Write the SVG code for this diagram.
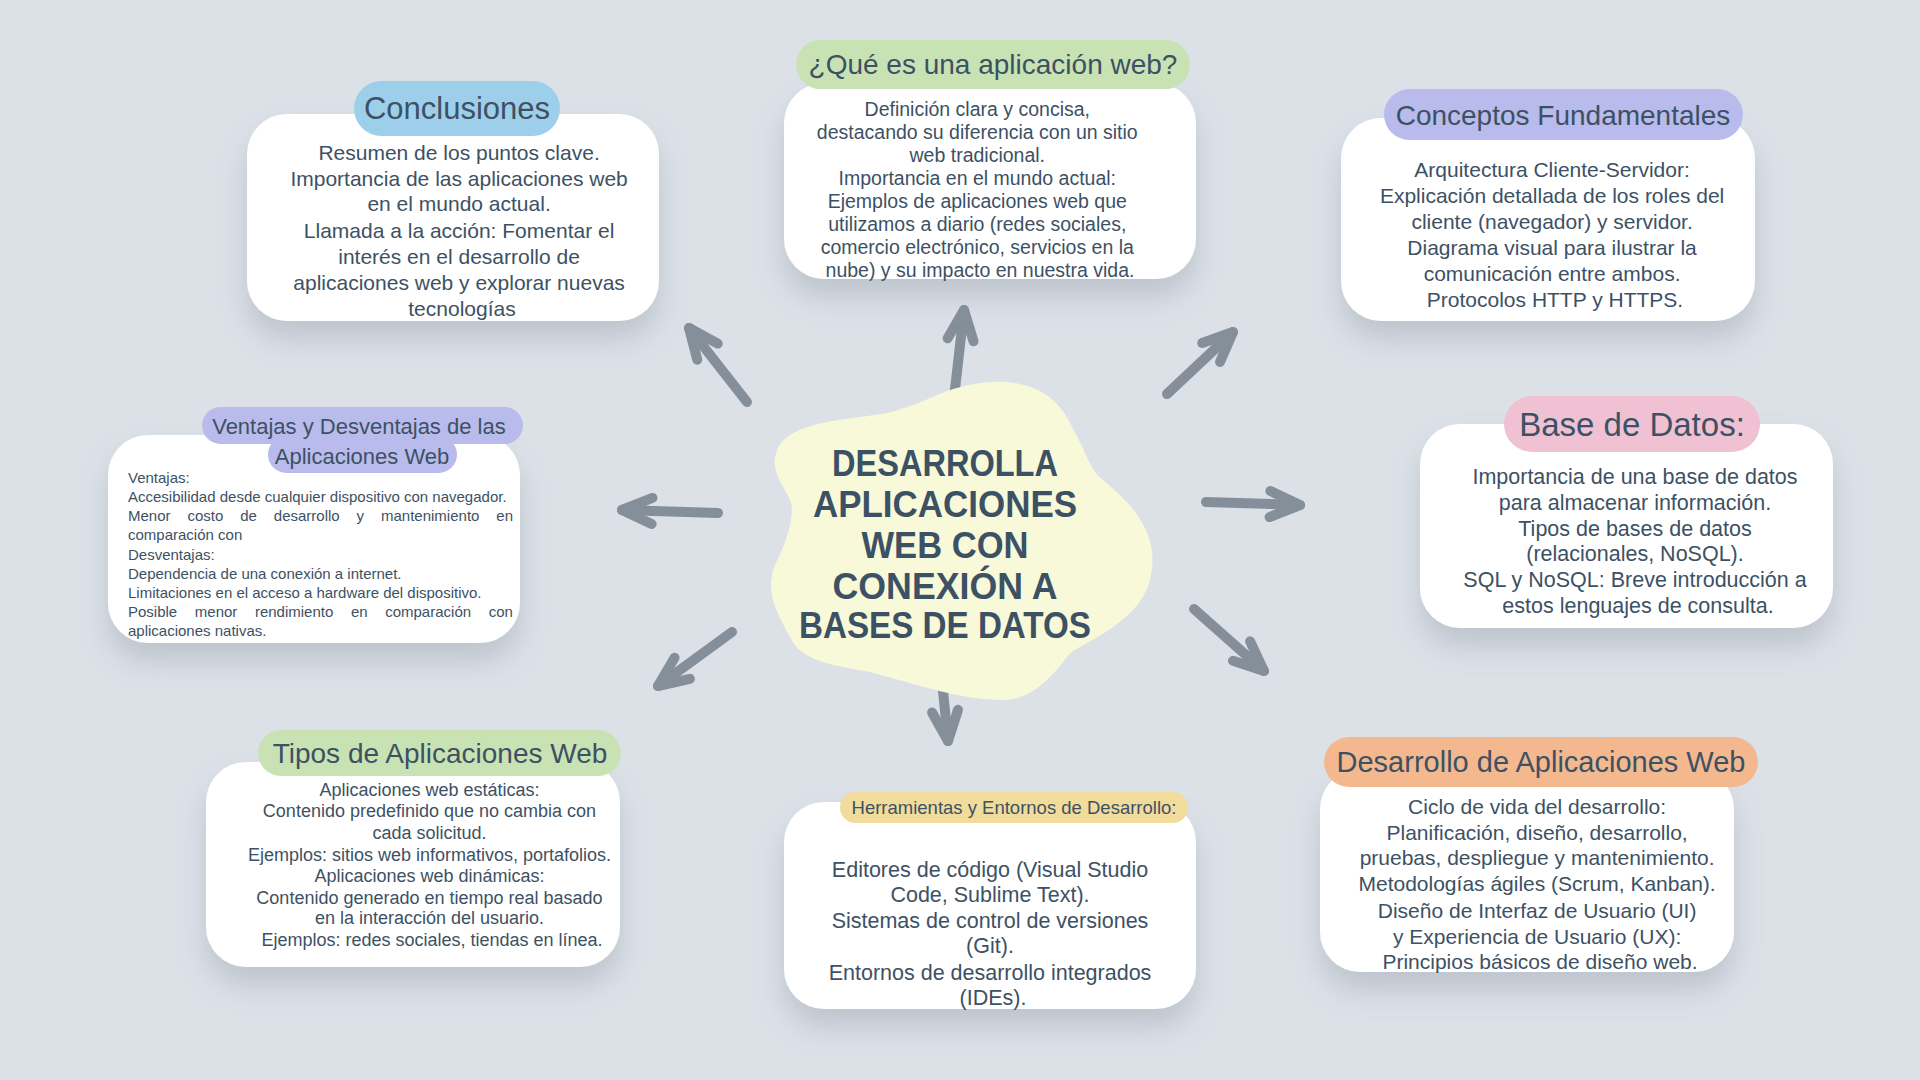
<svg xmlns="http://www.w3.org/2000/svg" width="1920" height="1080" viewBox="0 0 1920 1080">
<defs>
<filter id="sh" x="-20%" y="-20%" width="140%" height="160%">
<feDropShadow dx="0" dy="18" stdDeviation="14" flood-color="#7d8894" flood-opacity="0.32"/>
</filter>
<marker id="ah" markerUnits="userSpaceOnUse" markerWidth="80" markerHeight="80" refX="0" refY="0" orient="auto" overflow="visible">
<path d="M-30,-13 L0,0 L-30,13" fill="none" stroke="#848f99" stroke-width="10" stroke-linecap="round" stroke-linejoin="round"/>
</marker>
</defs>
<style>
.box{fill:#ffffff;filter:url(#sh)}
.t{font-family:"Liberation Sans",Arial,sans-serif;fill:#3d5164;text-anchor:middle}
.h{font-family:"Liberation Sans",Arial,sans-serif;fill:#3d5164;text-anchor:middle}
.l{font-family:"Liberation Sans",Arial,sans-serif;fill:#3d5164;font-size:15px}
.title{font-family:"Liberation Sans",Arial,sans-serif;font-weight:bold;font-size:36px;fill:#3d5164;text-anchor:middle}
.arr{fill:none;stroke:#848f99;stroke-width:10;stroke-linecap:round;marker-end:url(#ah)}
</style>
<rect width="1920" height="1080" fill="#dce1e8"/>

<g id="connectors">
<line class="arr" x1="747" y1="402" x2="689" y2="328"/>
<line class="arr" x1="954" y1="398" x2="964" y2="310"/>
<line class="arr" x1="1167" y1="394" x2="1233" y2="332"/>
<line class="arr" x1="1206" y1="502" x2="1300" y2="505"/>
<line class="arr" x1="1194" y1="609" x2="1264" y2="671"/>
<line class="arr" x1="939" y1="651" x2="948" y2="741"/>
<line class="arr" x1="732" y1="632" x2="658" y2="686"/>
<line class="arr" x1="718" y1="513" x2="622" y2="510"/>
</g>

<g id="center">
<path d="M777,450 C790,420 850,420 887,413 C920,405 940,392 957,388 C1000,375 1050,380 1070,423 C1090,460 1090,470 1103,480 C1140,510 1160,540 1150,580 C1140,620 1090,640 1070,653 C1050,680 1030,700 1003,700 C960,700 920,685 870,672 C830,665 800,660 790,637 C775,610 765,590 775,565 C790,535 795,510 790,500 C780,480 770,470 777,450 Z" fill="#f8f9d9"/>
<text class="title" x="945" y="476" textLength="226" lengthAdjust="spacingAndGlyphs">DESARROLLA</text>
<text class="title" x="945" y="517" textLength="264" lengthAdjust="spacingAndGlyphs">APLICACIONES</text>
<text class="title" x="945" y="558" textLength="167" lengthAdjust="spacingAndGlyphs">WEB CON</text>
<text class="title" x="945" y="599" textLength="225" lengthAdjust="spacingAndGlyphs">CONEXIÓN A</text>
<text class="title" x="945" y="638" textLength="292" lengthAdjust="spacingAndGlyphs">BASES DE DATOS</text>
</g>

<g id="conclusiones">
<rect class="box" x="247" y="114" width="412" height="207" rx="40"/>
<rect x="354" y="81" width="206" height="55" rx="27.5" fill="#9dcfea"/>
<text class="h" x="457" y="119" font-size="31">Conclusiones</text>
<text class="t" font-size="21">
<tspan x="462" y="160">Resumen de los puntos clave.</tspan>
<tspan x="462" y="186">Importancia de las aplicaciones web</tspan>
<tspan x="462" y="211">en el mundo actual.</tspan>
<tspan x="462" y="238">Llamada a la acción: Fomentar el</tspan>
<tspan x="462" y="264">interés en el desarrollo de</tspan>
<tspan x="462" y="290">aplicaciones web y explorar nuevas</tspan>
<tspan x="462" y="316">tecnologías</tspan>
</text>
</g>

<g id="que-es">
<rect class="box" x="784" y="83" width="412" height="196" rx="40"/>
<rect x="796" y="40" width="394" height="49" rx="24.5" fill="#c9e2b3"/>
<text class="h" x="993" y="74" font-size="28">¿Qué es una aplicación web?</text>
<text class="t" font-size="19.5">
<tspan x="980" y="116">Definición clara y concisa,</tspan>
<tspan x="980" y="139">destacando su diferencia con un sitio</tspan>
<tspan x="980" y="162">web tradicional.</tspan>
<tspan x="980" y="185">Importancia en el mundo actual:</tspan>
<tspan x="980" y="208">Ejemplos de aplicaciones web que</tspan>
<tspan x="980" y="231">utilizamos a diario (redes sociales,</tspan>
<tspan x="980" y="254">comercio electrónico, servicios en la</tspan>
<tspan x="980" y="277">nube) y su impacto en nuestra vida.</tspan>
</text>
</g>

<g id="conceptos">
<rect class="box" x="1341" y="118" width="414" height="203" rx="40"/>
<rect x="1384" y="89" width="359" height="51" rx="25.5" fill="#b8bbeb"/>
<text class="h" x="1563" y="125" font-size="28">Conceptos Fundamentales</text>
<text class="t" font-size="21">
<tspan x="1555" y="177">Arquitectura Cliente-Servidor:</tspan>
<tspan x="1555" y="203">Explicación detallada de los roles del</tspan>
<tspan x="1555" y="229">cliente (navegador) y servidor.</tspan>
<tspan x="1555" y="255">Diagrama visual para ilustrar la</tspan>
<tspan x="1555" y="281">comunicación entre ambos.</tspan>
<tspan x="1555" y="307">Protocolos HTTP y HTTPS.</tspan>
</text>
</g>

<g id="base-datos">
<rect class="box" x="1420" y="424" width="413" height="204" rx="40"/>
<rect x="1504" y="396" width="256" height="56" rx="28" fill="#efc1d3"/>
<text class="h" x="1632" y="436" font-size="33">Base de Datos:</text>
<text class="t" font-size="21.5">
<tspan x="1638" y="484">Importancia de una base de datos</tspan>
<tspan x="1638" y="510">para almacenar información.</tspan>
<tspan x="1638" y="536">Tipos de bases de datos</tspan>
<tspan x="1638" y="561">(relacionales, NoSQL).</tspan>
<tspan x="1638" y="587">SQL y NoSQL: Breve introducción a</tspan>
<tspan x="1638" y="613">estos lenguajes de consulta.</tspan>
</text>
</g>

<g id="desarrollo">
<rect class="box" x="1320" y="769" width="414" height="203" rx="40"/>
<rect x="1324" y="737" width="434" height="50" rx="25" fill="#f4b88f"/>
<text class="h" x="1541" y="772" font-size="29">Desarrollo de Aplicaciones Web</text>
<text class="t" font-size="21">
<tspan x="1540" y="814">Ciclo de vida del desarrollo:</tspan>
<tspan x="1540" y="840">Planificación, diseño, desarrollo,</tspan>
<tspan x="1540" y="865">pruebas, despliegue y mantenimiento.</tspan>
<tspan x="1540" y="891">Metodologías ágiles (Scrum, Kanban).</tspan>
<tspan x="1540" y="918">Diseño de Interfaz de Usuario (UI)</tspan>
<tspan x="1540" y="944">y Experiencia de Usuario (UX):</tspan>
<tspan x="1540" y="969">Principios básicos de diseño web.</tspan>
</text>
</g>

<g id="herramientas">
<rect class="box" x="784" y="802" width="412" height="207" rx="40"/>
<rect x="840" y="792" width="348" height="31" rx="15.5" fill="#f1dc9b"/>
<text class="h" x="1014" y="814" font-size="18.5">Herramientas y Entornos de Desarrollo:</text>
<text class="t" font-size="21.5">
<tspan x="993" y="877">Editores de código (Visual Studio</tspan>
<tspan x="993" y="902">Code, Sublime Text).</tspan>
<tspan x="993" y="928">Sistemas de control de versiones</tspan>
<tspan x="993" y="953">(Git).</tspan>
<tspan x="993" y="980">Entornos de desarrollo integrados</tspan>
<tspan x="993" y="1005">(IDEs).</tspan>
</text>
</g>

<g id="tipos">
<rect class="box" x="206" y="762" width="414" height="205" rx="40"/>
<rect x="258" y="730" width="363" height="46" rx="23" fill="#c9e2b3"/>
<text class="h" x="440" y="763" font-size="28">Tipos de Aplicaciones Web</text>
<text class="t" font-size="18">
<tspan x="432" y="796">Aplicaciones web estáticas:</tspan>
<tspan x="432" y="817">Contenido predefinido que no cambia con</tspan>
<tspan x="432" y="839">cada solicitud.</tspan>
<tspan x="432" y="861">Ejemplos: sitios web informativos, portafolios.</tspan>
<tspan x="432" y="882">Aplicaciones web dinámicas:</tspan>
<tspan x="432" y="904">Contenido generado en tiempo real basado</tspan>
<tspan x="432" y="924">en la interacción del usuario.</tspan>
<tspan x="432" y="946">Ejemplos: redes sociales, tiendas en línea.</tspan>
</text>
</g>

<g id="ventajas">
<rect class="box" x="108" y="435" width="412" height="208" rx="40"/>
<rect x="202" y="407" width="321" height="37" rx="18.5" fill="#b8bbeb"/>
<rect x="268" y="436" width="189" height="37" rx="18.5" fill="#b8bbeb"/>
<text class="h" font-size="22">
<tspan x="362" y="434">Ventajas y Desventajas de las</tspan>
<tspan x="362" y="464">Aplicaciones Web</tspan>
</text>
<text class="l">
<tspan x="128" y="483">Ventajas:</tspan>
<tspan x="128" y="502">Accesibilidad desde cualquier dispositivo con navegador.</tspan>
<tspan x="128" y="521">Menor</tspan><tspan x="187.4" y="521">costo</tspan><tspan x="240.2" y="521">de</tspan><tspan x="273.8" y="521">desarrollo</tspan><tspan x="356.6" y="521">y</tspan><tspan x="381" y="521">mantenimiento</tspan><tspan x="496.3" y="521">en</tspan>
<tspan x="128" y="540">comparación con</tspan>
<tspan x="128" y="560">Desventajas:</tspan>
<tspan x="128" y="579">Dependencia de una conexión a internet.</tspan>
<tspan x="128" y="598">Limitaciones en el acceso a hardware del dispositivo.</tspan>
<tspan x="128" y="617">Posible</tspan><tspan x="194.8" y="617">menor</tspan><tspan x="254.9" y="617">rendimiento</tspan><tspan x="350.9" y="617">en</tspan><tspan x="385.2" y="617">comparación</tspan><tspan x="488.7" y="617">con</tspan>
<tspan x="128" y="636">aplicaciones nativas.</tspan>
</text>
</g>
</svg>
